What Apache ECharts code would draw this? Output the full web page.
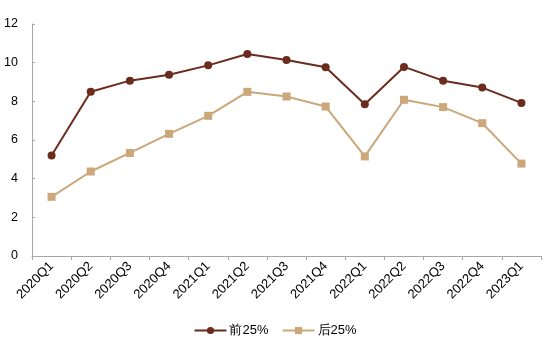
<!DOCTYPE html>
<html>
<head>
<meta charset="utf-8">
<script src="https://cdn.jsdelivr.net/npm/echarts@6/dist/echarts.min.js"></script>
<style>
  html, body { margin: 0; padding: 0; background: #fff; }
  #chart { width: 550px; height: 352px; }
</style>
</head>
<body>
<div id="chart"></div>
<script>
// 季度
var quarters = ["2020Q1", "2020Q2", "2020Q3", "2020Q4", "2021Q1", "2021Q2", "2021Q3",
  "2021Q4", "2022Q1", "2022Q2", "2022Q3", "2022Q4", "2023Q1"];
// 前25%
var top25 = [5.2, 8.5, 9.07, 9.37, 9.86, 10.45, 10.14, 9.76, 7.85, 9.78, 9.07, 8.71, 7.92];
// 后25%
var bottom25 = [3.06, 4.37, 5.33, 6.32, 7.25, 8.49, 8.25, 7.73, 5.15, 8.08, 7.7, 6.87, 4.78];
var yTicks = [0, 2, 4, 6, 8, 10, 12];

var font = "Liberation Sans, Arial, sans-serif";
var myChart = echarts.init(document.getElementById("chart"));
myChart.setOption({
  animation: false,
  grid: { left: 32, right: 9, top: 24, bottom: 96 },
  legend: {
    bottom: 10,
    left: "center",
    itemWidth: 32,
    itemHeight: 9,
    itemGap: 13,
    textStyle: { fontFamily: font, fontSize: 13, color: "#000", padding: [0, 0, 0, -2] },
    data: ["前25%", "后25%"]
  },
  xAxis: {
    type: "category",
    data: quarters,
    boundaryGap: true,
    axisLine: { lineStyle: { color: "#a6a6a6", width: 1 } },
    axisTick: { show: true, length: 4, lineStyle: { color: "#a6a6a6" } },
    axisLabel: { rotate: 45, fontFamily: font, fontSize: 13, color: "#000", margin: 8 }
  },
  yAxis: {
    type: "value",
    min: yTicks[0],
    max: yTicks[yTicks.length - 1],
    interval: 2,
    splitLine: { show: false },
    axisLine: { show: true, lineStyle: { color: "#a6a6a6", width: 1 } },
    axisTick: { show: true, inside: true, length: 3, lineStyle: { color: "#a6a6a6" } },
    axisLabel: { fontFamily: font, fontSize: 12.5, color: "#000", margin: 14 }
  },
  series: [
    {
      name: "前25%",
      type: "line",
      data: top25,
      symbol: "circle",
      symbolSize: 8,
      lineStyle: { color: "#6b2b1d", width: 2 },
      itemStyle: { color: "#6b2b1d" }
    },
    {
      name: "后25%",
      type: "line",
      data: bottom25,
      symbol: "rect",
      symbolSize: 8,
      lineStyle: { color: "#cba77a", width: 2 },
      itemStyle: { color: "#cba77a" }
    }
  ]
});
</script>
</body>
</html>
